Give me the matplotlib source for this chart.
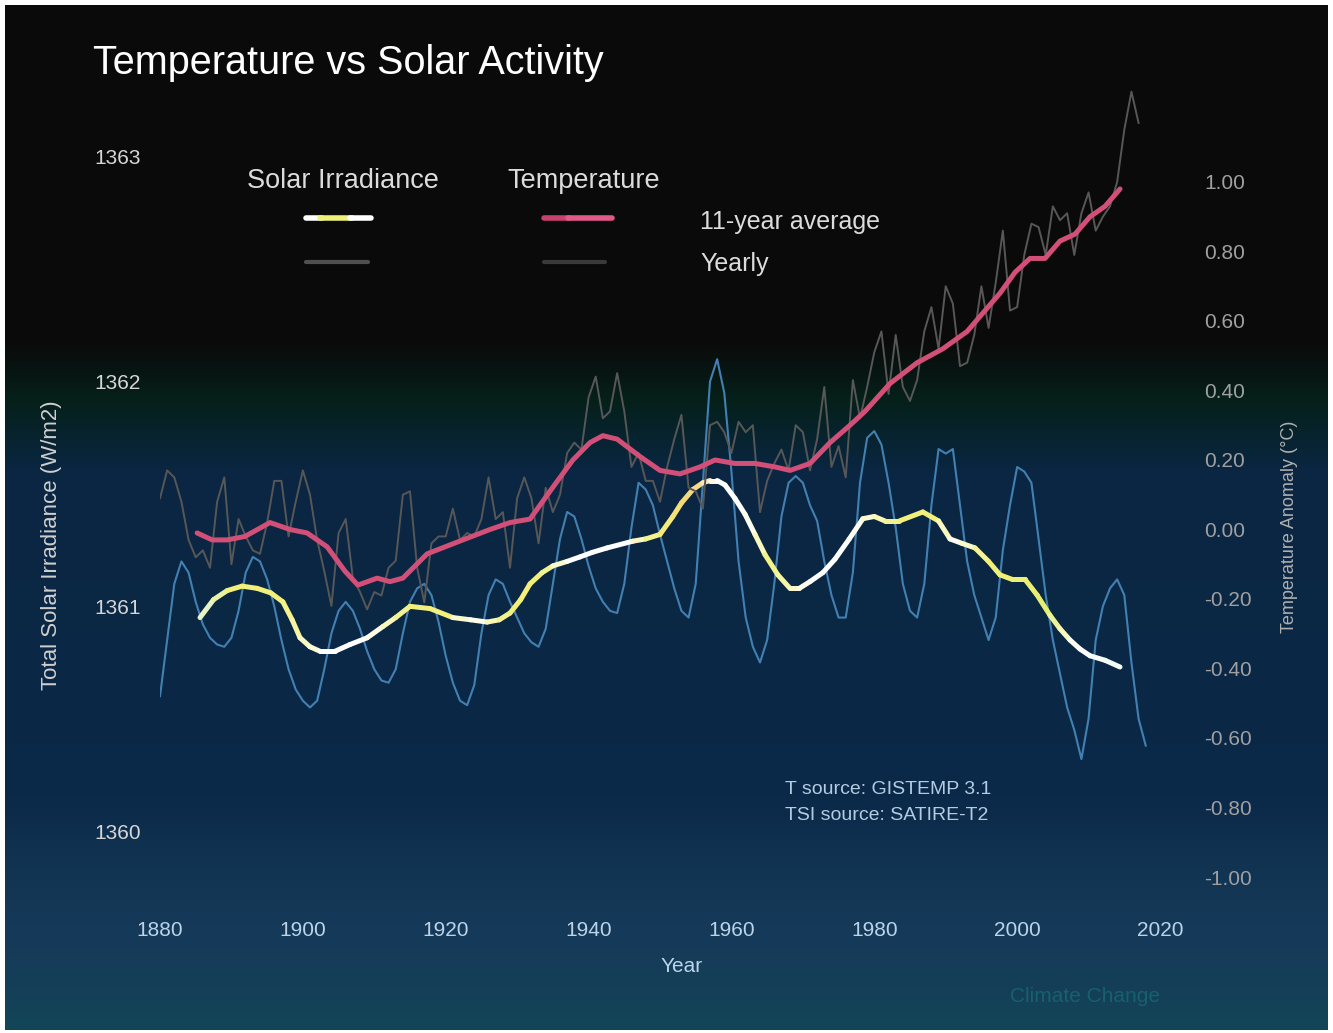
import numpy as np
import matplotlib
matplotlib.use('Agg')
import matplotlib.pyplot as plt
from matplotlib.collections import LineCollection
from matplotlib.colors import LinearSegmentedColormap
from matplotlib.lines import Line2D

plt.rcParams['font.family'] = ['Liberation Sans', 'DejaVu Sans']

W, H = 1333, 1033

# ---------------- data ----------------
tsi_avg_years = [1885.6, 1887.5, 1889.4, 1891.5, 1893.6, 1895.5, 1897.2, 1898.5, 1899.6,
                 1901.0, 1902.4, 1904.5, 1906.6, 1909.0, 1911.2, 1913.0, 1915.0, 1917.8,
                 1921.0, 1923.5, 1925.8, 1927.5, 1929.0, 1930.5, 1931.8, 1933.5, 1935.0,
                 1937.0, 1938.8, 1940.5, 1942.6, 1946.2, 1948.0, 1950.0, 1951.8, 1953.0,
                 1954.6, 1956.0, 1957.0, 1958.0, 1959.1, 1960.5, 1961.9, 1963.3, 1964.7,
                 1966.5, 1968.2, 1969.5, 1971.0, 1972.8, 1974.5, 1976.5, 1978.4, 1980.0,
                 1981.5, 1983.5, 1986.8, 1989.0, 1990.6, 1992.3, 1994.1, 1996.0, 1997.6,
                 1999.3, 2001.1, 2002.8, 2004.6, 2006.0, 2007.4, 2008.8, 2010.2, 2012.3,
                 2014.4]
tsi_avg_values = [1360.95, 1361.03, 1361.07, 1361.09, 1361.08, 1361.06, 1361.02, 1360.94, 1360.86,
                  1360.82, 1360.80, 1360.80, 1360.83, 1360.86, 1360.91, 1360.95, 1361.00, 1360.99,
                  1360.95, 1360.94, 1360.93, 1360.94, 1360.97, 1361.03, 1361.10, 1361.15, 1361.18,
                  1361.20, 1361.22, 1361.24, 1361.26, 1361.29, 1361.30, 1361.32, 1361.40, 1361.46,
                  1361.52, 1361.55, 1361.56, 1361.56, 1361.54, 1361.48, 1361.41, 1361.32, 1361.23,
                  1361.14, 1361.08, 1361.08, 1361.11, 1361.15, 1361.21, 1361.30, 1361.39, 1361.40,
                  1361.38, 1361.38, 1361.42, 1361.38, 1361.30, 1361.28, 1361.26, 1361.20, 1361.14,
                  1361.12, 1361.12, 1361.05, 1360.96, 1360.90, 1360.85, 1360.81, 1360.78, 1360.76,
                  1360.73]

temp_avg_years = [1885.2, 1887.3, 1889.4, 1891.9, 1895.4, 1898.2, 1900.6, 1903.4, 1905.9,
                  1907.7, 1910.4, 1912.2, 1914.0, 1917.4, 1919.9, 1922.4, 1926.2, 1929.0,
                  1931.8, 1933.9, 1935.3, 1937.8, 1940.2, 1942.0, 1944.0, 1947.2, 1950.0,
                  1952.8, 1955.6, 1957.7, 1960.5, 1963.3, 1966.1, 1968.2, 1971.0, 1973.8,
                  1976.6, 1978.7, 1982.2, 1986.0, 1989.6, 1993.0, 1995.5, 1997.6, 1999.7,
                  2001.8, 2003.9, 2006.0, 2008.1, 2010.2, 2012.3, 2014.4]
temp_avg_values = [-0.01, -0.03, -0.03, -0.02, 0.02, 0.00, -0.01, -0.05, -0.12,
                   -0.16, -0.14, -0.15, -0.14, -0.07, -0.05, -0.03, 0.00, 0.02,
                   0.03, 0.09, 0.13, 0.20, 0.25, 0.27, 0.26, 0.21, 0.17,
                   0.16, 0.18, 0.20, 0.19, 0.19, 0.18, 0.17, 0.19, 0.25,
                   0.30, 0.34, 0.42, 0.48, 0.52, 0.57, 0.63, 0.68, 0.74,
                   0.78, 0.78, 0.83, 0.85, 0.90, 0.93, 0.98]

temp_yearly_years = list(range(1880, 2018))
temp_yearly = [0.09, 0.17, 0.15, 0.08, -0.03, -0.08, -0.06, -0.11, 0.08, 0.15,
               -0.10, 0.03, -0.02, -0.06, -0.07, 0.02, 0.14, 0.14, -0.02, 0.08,
               0.17, 0.10, -0.03, -0.12, -0.22, -0.01, 0.03, -0.14, -0.18, -0.23,
               -0.18, -0.19, -0.11, -0.09, 0.10, 0.11, -0.11, -0.21, -0.04, -0.02,
               -0.02, 0.06, -0.03, -0.01, -0.02, 0.03, 0.15, 0.03, 0.05, -0.11,
               0.09, 0.15, 0.09, -0.04, 0.12, 0.05, 0.10, 0.22, 0.25, 0.23,
               0.38, 0.44, 0.32, 0.34, 0.45, 0.34, 0.18, 0.22, 0.14, 0.14,
               0.08, 0.18, 0.26, 0.33, 0.12, 0.11, 0.06, 0.30, 0.31, 0.28,
               0.22, 0.31, 0.28, 0.30, 0.05, 0.14, 0.19, 0.23, 0.17, 0.30,
               0.28, 0.17, 0.26, 0.41, 0.18, 0.24, 0.15, 0.43, 0.32, 0.41,
               0.51, 0.57, 0.39, 0.56, 0.41, 0.37, 0.43, 0.57, 0.64, 0.52,
               0.70, 0.65, 0.47, 0.48, 0.56, 0.70, 0.58, 0.71, 0.86, 0.63,
               0.64, 0.79, 0.88, 0.87, 0.79, 0.93, 0.89, 0.91, 0.79, 0.91,
               0.97, 0.86, 0.90, 0.93, 1.00, 1.15, 1.26, 1.17]

tsi_yearly_years = list(range(1880, 2019))
tsi_yearly = [1360.60, 1360.85, 1361.10, 1361.20, 1361.15, 1361.02, 1360.92, 1360.86, 1360.83, 1360.82,
              1360.86, 1360.98, 1361.15, 1361.22, 1361.20, 1361.12, 1361.00, 1360.85, 1360.72, 1360.63,
              1360.58, 1360.55, 1360.58, 1360.72, 1360.88, 1360.98, 1361.02, 1360.98, 1360.90, 1360.80,
              1360.72, 1360.67, 1360.66, 1360.72, 1360.88, 1361.02, 1361.08, 1361.10, 1361.05, 1360.93,
              1360.78, 1360.66, 1360.58, 1360.56, 1360.65, 1360.88, 1361.05, 1361.12, 1361.10, 1361.02,
              1360.95, 1360.88, 1360.84, 1360.82, 1360.90, 1361.10, 1361.30, 1361.42, 1361.40, 1361.30,
              1361.18, 1361.08, 1361.02, 1360.98, 1360.97, 1361.10, 1361.35, 1361.55, 1361.52, 1361.45,
              1361.32, 1361.20, 1361.08, 1360.98, 1360.95, 1361.10, 1361.55, 1362.00, 1362.10, 1361.95,
              1361.60, 1361.20, 1360.95, 1360.82, 1360.75, 1360.85, 1361.10, 1361.40, 1361.55, 1361.58,
              1361.55, 1361.45, 1361.38, 1361.20, 1361.05, 1360.95, 1360.95, 1361.15, 1361.55, 1361.75,
              1361.78, 1361.72, 1361.55, 1361.35, 1361.10, 1360.98, 1360.95, 1361.10, 1361.45, 1361.70,
              1361.68, 1361.70, 1361.45, 1361.20, 1361.05, 1360.95, 1360.85, 1360.95, 1361.25, 1361.45,
              1361.62, 1361.60, 1361.55, 1361.30, 1361.05, 1360.85, 1360.70, 1360.55, 1360.45, 1360.32,
              1360.50, 1360.85, 1361.00, 1361.08, 1361.12, 1361.05, 1360.75, 1360.50, 1360.38]

x_ticks = [1880, 1900, 1920, 1940, 1960, 1980, 2000, 2020]
tsi_ticks = [1360, 1361, 1362, 1363]
temp_ticks = [1.0, 0.8, 0.6, 0.4, 0.2, 0.0, -0.2, -0.4, -0.6, -0.8, -1.0]
temp_tick_labels = ['1.00', '0.80', '0.60', '0.40', '0.20', '0.00',
                    '-0.20', '-0.40', '-0.60', '-0.80', '-1.00']

title = 'Temperature vs Solar Activity'

# ---------------- figure ----------------
fig = plt.figure(figsize=(W / 100, H / 100), dpi=100)
fig.patch.set_facecolor('white')


def fx(x):
    return x / W


def fy(y):
    return 1 - y / H


# background gradient
ax_bg = fig.add_axes([fx(5), fy(1030), fx(1323), 1025 / H], zorder=-5)
stops = [(5, '#0a0a0a'), (340, '#0a0a0a'), (400, '#05201a'), (470, '#0a2642'),
         (800, '#0b2948'), (870, '#123453'), (940, '#163a5a'), (1000, '#144058'),
         (1030, '#124657')]
cm_bg = LinearSegmentedColormap.from_list(
    'bg', [((y - 5) / 1025, c) for y, c in stops])
grad = np.linspace(0, 1, 1025).reshape(-1, 1)
ax_bg.imshow(grad, aspect='auto', cmap=cm_bg, extent=[0, 1, 0, 1], origin='upper')
ax_bg.set_axis_off()

# main axes
ax = fig.add_axes([fx(160), fy(890), 1000 / W, 800 / H])
ax.set_facecolor('none')
ax.set_xlim(1880, 2020)
ax.set_ylim(1359.7374, 1363.2982)
ax2 = ax.twinx()
ax2.set_ylim(-1.0374, 1.2647)

for a in (ax, ax2):
    for s in a.spines.values():
        s.set_visible(False)

ax.set_xticks(x_ticks)
ax.set_xticklabels([str(t) for t in x_ticks])
ax.set_yticks(tsi_ticks)
ax.set_yticklabels([str(t) for t in tsi_ticks])
ax.tick_params(axis='x', length=0, pad=22, labelsize=15, labelcolor='#bcd4ea')
ax.tick_params(axis='y', length=0, pad=14, labelsize=15, labelcolor='#d6d6d6')
ax2.set_yticks(temp_ticks)
ax2.set_yticklabels(temp_tick_labels)
ax2.tick_params(axis='y', length=0, pad=32, labelsize=15, labelcolor='#a0a0a0')

# yearly lines
ax.plot(tsi_yearly_years, tsi_yearly, color='#4280b2', lw=1.5, zorder=2,
        solid_joinstyle='round')
ax2.plot(temp_yearly_years, temp_yearly, color='#575757', lw=1.4, zorder=2,
         solid_joinstyle='round')

# TSI 11-year average: white / yellow shimmering line
tx = np.array(tsi_avg_years)
tv = np.array(tsi_avg_values)
pts = np.column_stack([tx, tv]).reshape(-1, 1, 2)
segs = np.concatenate([pts[:-1], pts[1:]], axis=1)
col_stops = [(1885, '#dff5e6'), (1890, '#f2f07a'), (1897, '#f2f07a'), (1903, '#ffffff'),
             (1909, '#ffffff'), (1915, '#f2f07a'), (1919, '#f2f07a'), (1924, '#ffffff'),
             (1929, '#f2f07a'), (1933, '#f2f07a'), (1938, '#ffffff'), (1945, '#ffffff'),
             (1950, '#f2f07a'), (1955, '#f6d278'), (1958, '#ffffff'), (1962, '#ffffff'),
             (1966, '#f2f07a'), (1971, '#ffffff'), (1977, '#ffffff'), (1984, '#f2f07a'),
             (1988, '#f2f07a'), (1992, '#ffffff'), (1996, '#f2f07a'), (2004, '#e6f070'),
             (2009, '#ffffff'), (2015, '#eefff0')]
span = 2015 - 1885
cm_line = LinearSegmentedColormap.from_list(
    'tsiline', [((y - 1885) / span, c) for y, c in col_stops])
mid = (tx[:-1] + tx[1:]) / 2
lc = LineCollection(segs, colors=cm_line((mid - 1885) / span), linewidths=3.6,
                    capstyle='round', joinstyle='round', zorder=5)
ax.add_collection(lc)

# temperature 11-year average
ax2.plot(temp_avg_years, temp_avg_values, color='#d24f78', lw=3.6, zorder=5,
         solid_capstyle='round', solid_joinstyle='round')

# ---------------- texts ----------------
fig.text(fx(93), fy(63), title, color='white', fontsize=28.5, va='center', ha='left')

fig.text(fx(247), fy(181), 'Solar Irradiance', color='#dcdcdc', fontsize=19.5,
         va='center', ha='left')
fig.text(fx(507), fy(181), 'Temperature', color='#dcdcdc', fontsize=19.5,
         va='center', ha='left')
fig.text(fx(700), fy(222), '11-year average', color='#dcdcdc', fontsize=18,
         va='center', ha='left')
fig.text(fx(700), fy(264), 'Yearly', color='#dcdcdc', fontsize=18,
         va='center', ha='left')


def seg(x0, x1, y, color, lw):
    fig.add_artist(Line2D([fx(x0), fx(x1)], [fy(y), fy(y)], color=color, lw=lw,
                          transform=fig.transFigure, solid_capstyle='round'))


seg(306, 322, 218, '#ffffff', 4)
seg(320, 352, 218, '#eef07a', 4)
seg(350, 371, 218, '#ffffff', 4)
seg(306, 368, 262, '#505050', 3)
seg(544, 570, 218, '#c8406e', 4)
seg(568, 612, 218, '#e2588a', 4)
seg(544, 605, 262, '#3a3a3a', 3)

fig.text(fx(785), fy(790), 'T source: GISTEMP 3.1', color='#b4cce2', fontsize=14,
         va='center', ha='left')
fig.text(fx(785), fy(816), 'TSI source: SATIRE-T2', color='#b4cce2', fontsize=14,
         va='center', ha='left')

fig.text(fx(682), fy(967), 'Year', color='#bcd4ea', fontsize=15, va='center', ha='center')
fig.text(fx(52), fy(545), 'Total Solar Irradiance (W/m2)', color='#cfcfcf', fontsize=16,
         rotation=90, va='center', ha='center')
fig.text(fx(1290), fy(527), 'Temperature Anomaly (°C)', color='#b0b0b0', fontsize=13,
         rotation=90, va='center', ha='center')
fig.text(fx(1085), fy(996), 'Climate Change', color='#17606c', fontsize=15,
         va='center', ha='center')

fig.savefig('out.png', dpi=100, facecolor=fig.get_facecolor())
